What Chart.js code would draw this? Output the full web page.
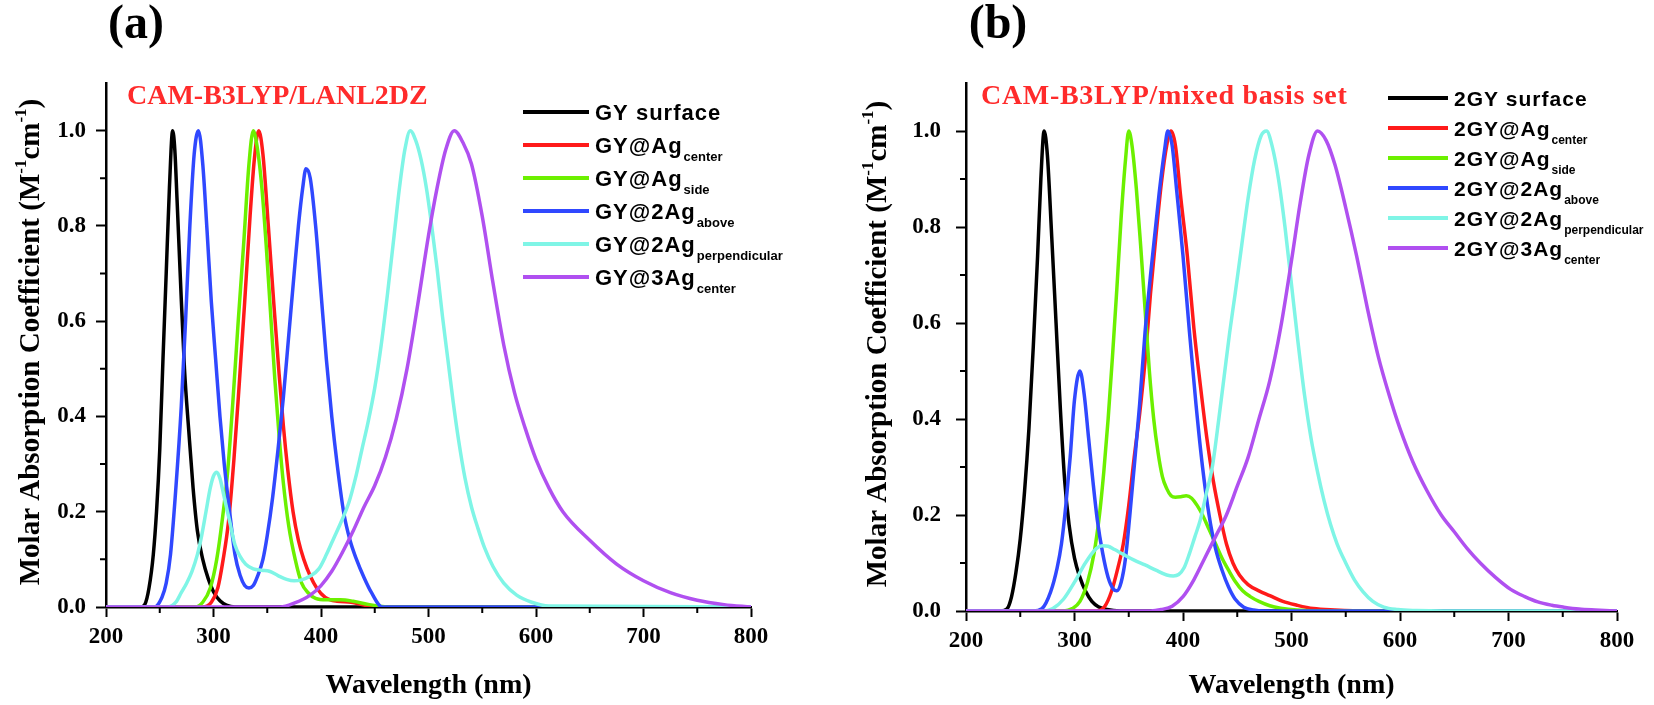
<!DOCTYPE html>
<html>
<head>
<meta charset="utf-8">
<script src="https://cdn.jsdelivr.net/npm/chart.js@4.4.1/dist/chart.umd.min.js"></script>
<style>
  html, body { margin: 0; padding: 0; background: #fff; }
  #wrap { position: relative; width: 1654px; height: 705px; overflow: hidden; }
  canvas { position: absolute; top: 0; }
</style>
</head>
<body>
<div id="wrap">
  <canvas id="chartA" width="827" height="705" style="left:0"></canvas>
  <canvas id="chartB" width="827" height="705" style="left:827px"></canvas>
</div>
<script>
/* ---- axes ---- */
const xTicks = [200, 300, 400, 500, 600, 700, 800];
const xMinorTicks = [250, 350, 450, 550, 650, 750];
const yTicks = [0, 0.2, 0.4, 0.6, 0.8, 1.0];
const yMinorTicks = [0.1, 0.3, 0.5, 0.7, 0.9];

/* ---- panel (a): CAM-B3LYP/LANL2DZ ---- */
const aLabels = [['GY surface', ''], ['GY@Ag', 'center'], ['GY@Ag', 'side'], ['GY@2Ag', 'above'], ['GY@2Ag', 'perpendicular'], ['GY@3Ag', 'center']];

const aSurfaceX = [200, 232, 236, 240, 244, 247, 250, 253, 256, 259, 262, 264, 266, 269, 273, 277, 281, 285, 290, 295, 300, 306, 312, 320, 800];
const aSurfaceY = [0, 0, 0.005, 0.04, 0.11, 0.2, 0.33, 0.52, 0.7, 0.88, 1.0, 0.96, 0.86, 0.7, 0.5, 0.37, 0.25, 0.16, 0.1, 0.06, 0.032, 0.013, 0.004, 0, 0];

const aCenterX = [200, 290, 298, 304, 309, 314, 319, 324, 329, 334, 338, 342, 346, 351, 356, 361, 365, 369, 374, 379, 384, 390, 396, 404, 415, 428, 440, 452, 800];
const aCenterY = [0, 0, 0.01, 0.04, 0.1, 0.18, 0.31, 0.47, 0.64, 0.82, 0.94, 1.0, 0.95, 0.8, 0.64, 0.49, 0.38, 0.29, 0.2, 0.14, 0.1, 0.065, 0.04, 0.02, 0.012, 0.01, 0.004, 0, 0];

const aSideX = [200, 283, 290, 297, 303, 308, 313, 318, 323, 328, 333, 337, 341, 345, 349, 353, 357, 361, 365, 370, 376, 382, 388, 395, 405, 418, 430, 445, 465, 800];
const aSideY = [0, 0, 0.01, 0.04, 0.1, 0.18, 0.28, 0.43, 0.6, 0.76, 0.93, 1.0, 0.96, 0.88, 0.76, 0.62, 0.48, 0.36, 0.26, 0.17, 0.1, 0.05, 0.03, 0.018, 0.015, 0.015, 0.012, 0.005, 0, 0];

const aAboveX = [200, 245, 252, 256, 260, 265, 270, 274, 278, 282, 286, 290, 294, 298, 302, 306, 310, 315, 320, 325, 329, 333, 337, 341, 346, 350, 355, 360, 365, 370, 375, 379, 383, 386, 390, 395, 400, 405, 410, 415, 421, 427, 433, 440, 447, 457, 800];
const aAboveY = [0, 0, 0.02, 0.05, 0.11, 0.25, 0.42, 0.6, 0.8, 0.95, 1.0, 0.93, 0.79, 0.64, 0.52, 0.4, 0.3, 0.2, 0.11, 0.065, 0.045, 0.04, 0.045, 0.065, 0.1, 0.15, 0.23, 0.33, 0.44, 0.57, 0.7, 0.8, 0.88, 0.92, 0.9, 0.8, 0.66, 0.52, 0.4, 0.3, 0.2, 0.14, 0.1, 0.062, 0.03, 0, 0];

const aPerpX = [200, 258, 265, 270, 275, 280, 285, 289, 293, 297, 300, 303, 306, 310, 315, 320, 325, 330, 337, 345, 352, 360, 368, 375, 382, 390, 398, 405, 412, 419, 426, 432, 438, 444, 450, 456, 462, 468, 473, 478, 483, 488, 493, 498, 503, 508, 513, 518, 523, 528, 534, 540, 546, 552, 560, 570, 582, 596, 612, 800];
const aPerpY = [0, 0, 0.01, 0.03, 0.05, 0.075, 0.11, 0.15, 0.2, 0.25, 0.275, 0.283, 0.27, 0.23, 0.18, 0.13, 0.105, 0.09, 0.08, 0.077, 0.075, 0.066, 0.058, 0.055, 0.057, 0.065, 0.08, 0.11, 0.145, 0.18, 0.22, 0.27, 0.33, 0.39, 0.46, 0.55, 0.66, 0.78, 0.88, 0.96, 1.0, 0.98, 0.94, 0.88, 0.8, 0.71, 0.61, 0.52, 0.43, 0.35, 0.27, 0.21, 0.165, 0.125, 0.085, 0.05, 0.025, 0.01, 0.002, 0];

const aThreeX = [200, 362, 375, 390, 400, 410, 420, 430, 440, 450, 460, 470, 480, 490, 500, 508, 516, 524, 532, 540, 550, 560, 570, 580, 590, 600, 612, 625, 650, 675, 700, 725, 750, 775, 800];
const aThreeY = [0, 0, 0.008, 0.025, 0.045, 0.075, 0.115, 0.16, 0.21, 0.255, 0.315, 0.395, 0.5, 0.635, 0.78, 0.88, 0.96, 1.0, 0.975, 0.93, 0.82, 0.68, 0.55, 0.45, 0.375, 0.31, 0.25, 0.2, 0.14, 0.09, 0.055, 0.03, 0.014, 0.005, 0];

/* ---- panel (b): CAM-B3LYP/mixed basis set ---- */
const bLabels = [['2GY surface', ''], ['2GY@Ag', 'center'], ['2GY@Ag', 'side'], ['2GY@2Ag', 'above'], ['2GY@2Ag', 'perpendicular'], ['2GY@3Ag', 'center']];

const bSurfaceX = [200, 232, 238, 242, 246, 250, 254, 258, 262, 266, 269, 272, 275, 279, 283, 287, 291, 295, 300, 305, 310, 316, 322, 330, 342, 800];
const bSurfaceY = [0, 0, 0.005, 0.03, 0.08, 0.15, 0.25, 0.38, 0.55, 0.74, 0.9, 1.0, 0.95, 0.78, 0.6, 0.42, 0.27, 0.18, 0.11, 0.07, 0.042, 0.02, 0.009, 0.003, 0, 0];

const bCenterX = [200, 320, 328, 334, 340, 345, 350, 355, 360, 365, 370, 375, 380, 385, 389, 393, 398, 404, 410, 416, 422, 428, 434, 440, 446, 452, 460, 470, 480, 492, 505, 520, 540, 570, 800];
const bCenterY = [0, 0, 0.01, 0.04, 0.09, 0.14, 0.22, 0.32, 0.41, 0.52, 0.66, 0.78, 0.89, 0.97, 1.0, 0.97, 0.86, 0.74, 0.59, 0.47, 0.36, 0.27, 0.2, 0.14, 0.1, 0.075, 0.055, 0.042, 0.032, 0.02, 0.012, 0.005, 0.002, 0, 0];

const bSideX = [200, 290, 298, 305, 312, 318, 323, 327, 331, 335, 339, 343, 347, 350, 353, 357, 361, 365, 369, 373, 377, 381, 385, 389, 393, 398, 403, 408, 413, 418, 424, 430, 436, 442, 448, 455, 462, 470, 480, 490, 505, 530, 800];
const bSideY = [0, 0, 0.005, 0.02, 0.06, 0.12, 0.2, 0.29, 0.4, 0.53, 0.67, 0.82, 0.94, 1.0, 0.97, 0.88, 0.76, 0.63, 0.5, 0.4, 0.33, 0.28, 0.255, 0.24, 0.237, 0.238, 0.24, 0.235, 0.22, 0.2, 0.17, 0.14, 0.11, 0.085, 0.062, 0.042, 0.03, 0.02, 0.011, 0.006, 0.002, 0, 0];

const bAboveX = [200, 262, 270, 278, 284, 288, 292, 296, 300, 305, 309, 313, 317, 321, 326, 331, 336, 339, 343, 347, 351, 355, 360, 365, 371, 378, 383, 386, 390, 394, 400, 406, 412, 418, 424, 430, 436, 442, 448, 456, 465, 475, 800];
const bAboveY = [0, 0, 0.005, 0.04, 0.09, 0.14, 0.22, 0.32, 0.44, 0.5, 0.45, 0.36, 0.27, 0.19, 0.12, 0.07, 0.045, 0.042, 0.06, 0.11, 0.2, 0.3, 0.43, 0.58, 0.72, 0.87, 0.96, 1.0, 0.97, 0.88, 0.74, 0.58, 0.43, 0.3, 0.2, 0.13, 0.085, 0.05, 0.025, 0.008, 0.002, 0, 0];

const bPerpX = [200, 270, 280, 290, 300, 310, 320, 326, 331, 337, 345, 355, 365, 375, 385, 391, 396, 401, 406, 411, 416, 421, 427, 433, 438, 443, 448, 454, 460, 466, 472, 477, 482, 488, 494, 500, 506, 512, 518, 524, 530, 536, 542, 550, 558, 566, 575, 585, 598, 615, 640, 800];
const bPerpY = [0, 0, 0.005, 0.025, 0.06, 0.1, 0.13, 0.136, 0.135, 0.128, 0.118, 0.106, 0.096, 0.085, 0.075, 0.073, 0.076, 0.09, 0.12, 0.155, 0.19, 0.24, 0.3, 0.4, 0.49, 0.58, 0.66, 0.76, 0.86, 0.94, 0.99, 1.0, 0.97, 0.9, 0.8, 0.68, 0.56, 0.45, 0.36, 0.29, 0.23, 0.18, 0.14, 0.1, 0.065, 0.04, 0.02, 0.008, 0.003, 0.001, 0, 0];

const bThreeX = [200, 370, 380, 390, 400, 410, 420, 430, 440, 450, 460, 470, 480, 490, 500, 508, 516, 524, 532, 540, 550, 560, 570, 580, 590, 600, 612, 625, 638, 650, 662, 674, 688, 702, 715, 727, 740, 751, 765, 780, 800];
const bThreeY = [0, 0, 0.003, 0.01, 0.03, 0.065, 0.11, 0.155, 0.2, 0.26, 0.32, 0.4, 0.48, 0.59, 0.73, 0.85, 0.95, 1.0, 0.98, 0.93, 0.84, 0.74, 0.63, 0.53, 0.45, 0.38, 0.31, 0.25, 0.2, 0.165, 0.13, 0.1, 0.07, 0.045, 0.03, 0.019, 0.012, 0.008, 0.004, 0.002, 0];

const seriesColors = ['#000000', '#ff1a1a', '#6cf000', '#3048ff', '#7ff5e6', '#b050f0'];

const SERIF = '"Liberation Serif", "Times New Roman", serif';
const SANS = '"Liberation Sans", Arial, sans-serif';

function toPoints(xs, ys) {
  return xs.map((x, i) => ({ x: x, y: ys[i] }));
}

function buildDatasets(pairs, labels) {
  return pairs.map((p, i) => ({
    label: labels[i][0] + labels[i][1],
    data: toPoints(p[0], p[1]),
    borderColor: seriesColors[i],
    borderWidth: 3.5,
    pointRadius: 0,
    fill: false,
    cubicInterpolationMode: 'monotone',
    order: pairs.length - i
  }));
}

// titles, panel letter, legend with subscripts, minor ticks
const decorPlugin = {
  id: 'decor',
  afterDraw(chart, args, o) {
    const ctx = chart.ctx;
    const xs = chart.scales.x, ys = chart.scales.y;
    const area = chart.chartArea;
    ctx.save();

    // minor ticks
    ctx.strokeStyle = '#000';
    ctx.lineWidth = 2;
    ctx.beginPath();
    xMinorTicks.forEach(v => {
      const px = xs.getPixelForValue(v);
      ctx.moveTo(px, area.bottom);
      ctx.lineTo(px, area.bottom + 6);
    });
    yMinorTicks.forEach(v => {
      const py = ys.getPixelForValue(v);
      ctx.moveTo(area.left, py);
      ctx.lineTo(area.left - 6, py);
    });
    ctx.stroke();

    // panel letter
    ctx.fillStyle = '#000';
    ctx.textAlign = 'center';
    ctx.textBaseline = 'middle';
    ctx.font = 'bold 48px ' + SERIF;
    ctx.fillText(o.letter, o.letterX, o.letterY);

    // method title
    ctx.fillStyle = '#ff2b2b';
    ctx.textAlign = 'left';
    ctx.font = 'bold 28px ' + SERIF;
    ctx.letterSpacing = o.titleSpacing;
    ctx.fillText(o.title, o.titleX, o.titleY);
    ctx.letterSpacing = '0px';

    // legend
    o.labels.forEach((lab, i) => {
      const yy = o.legendY0 + i * o.legendDy;
      ctx.strokeStyle = seriesColors[i];
      ctx.lineWidth = 4;
      ctx.beginPath();
      ctx.moveTo(o.legendX0, yy);
      ctx.lineTo(o.legendX1, yy);
      ctx.stroke();
      ctx.fillStyle = '#000';
      ctx.textBaseline = 'alphabetic';
      ctx.font = 'bold ' + o.legendSize + 'px ' + SANS;
      ctx.letterSpacing = '1px';
      const base = yy + o.legendSize * 0.36;
      ctx.fillText(lab[0], o.legendTextX, base);
      if (lab[1]) {
        const w = ctx.measureText(lab[0]).width;
        ctx.letterSpacing = '0px';
        ctx.font = 'bold ' + o.subSize + 'px ' + SANS;
        ctx.fillText(lab[1], o.legendTextX + w + 1, base + o.subDrop);
      }
    });
    ctx.letterSpacing = '0px';

    // y axis title with superscripts
    const parts = [['Molar Absorption Coefficient (M', false], ['-1', true], ['cm', false], ['-1', true], [')', false]];
    const mainFont = 'bold 29px ' + SERIF, supFont = 'bold 17px ' + SERIF;
    let total = 0;
    parts.forEach(p => { ctx.font = p[1] ? supFont : mainFont; total += ctx.measureText(p[0]).width; });
    ctx.translate(o.yTitleX, (area.top + area.bottom) / 2 - 3);
    ctx.rotate(-Math.PI / 2);
    ctx.fillStyle = '#000';
    ctx.textBaseline = 'alphabetic';
    let cx = -total / 2;
    parts.forEach(p => {
      ctx.font = p[1] ? supFont : mainFont;
      ctx.fillText(p[0], cx, p[1] ? -3 : 10);
      cx += ctx.measureText(p[0]).width;
    });
    ctx.restore();
  }
};

function makeChart(id, datasets, p) {
  return new Chart(document.getElementById(id), {
    type: 'line',
    data: { datasets: datasets },
    plugins: [decorPlugin],
    options: {
      responsive: false,
      animation: false,
      devicePixelRatio: 1,
      layout: { padding: { top: p.top, right: p.rightPad, left: 0, bottom: 0 } },
      plugins: {
        legend: { display: false },
        tooltip: { enabled: false },
        decor: p
      },
      scales: {
        x: {
          type: 'linear', min: 200, max: 800,
          afterBuildTicks: s => { s.ticks = xTicks.map(v => ({ value: v })); },
          afterFit: s => { s.height = p.xAxisHeight; },
          ticks: { color: '#000', padding: 6, maxRotation: 0, autoSkip: false,
                   font: { family: SERIF, size: 23, weight: 'bold' } },
          grid: { display: true, drawOnChartArea: false, drawTicks: true, tickLength: 10, tickWidth: 2, tickColor: '#000' },
          border: { display: true, color: '#000', width: 2.5 },
          title: { display: true, text: 'Wavelength (nm)', color: '#000',
                   font: { family: SERIF, size: 28, weight: 'bold', lineHeight: 1.1 }, padding: { top: 0, bottom: 4 } }
        },
        y: {
          type: 'linear', min: 0, max: 1.1,
          afterBuildTicks: s => { s.ticks = yTicks.map(v => ({ value: v })); },
          afterFit: s => { s.width = p.yAxisWidth; },
          ticks: { color: '#000', padding: p.yTickPad, callback: v => v.toFixed(1),
                   font: { family: SERIF, size: 23, weight: 'bold' } },
          grid: { display: true, drawOnChartArea: false, drawTicks: true, tickLength: 10, tickWidth: 2, tickColor: '#000' },
          border: { display: true, color: '#000', width: 2.5 }
        }
      }
    }
  });
}

makeChart('chartA', buildDatasets([
  [aSurfaceX, aSurfaceY], [aCenterX, aCenterY], [aSideX, aSideY],
  [aAboveX, aAboveY], [aPerpX, aPerpY], [aThreeX, aThreeY]
], aLabels), {
  letter: '(a)', letterX: 136, letterY: 26,
  title: 'CAM-B3LYP/LANL2DZ', titleX: 127, titleY: 97, titleSpacing: '0px',
  labels: aLabels, legendX0: 523, legendX1: 589, legendTextX: 595,
  legendY0: 112, legendDy: 33, legendSize: 22, subSize: 13, subDrop: 8,
  yTitleX: 29, yTickPad: 10, yAxisWidth: 106, rightPad: 76, xAxisHeight: 98, top: 83
});

makeChart('chartB', buildDatasets([
  [bSurfaceX, bSurfaceY], [bCenterX, bCenterY], [bSideX, bSideY],
  [bAboveX, bAboveY], [bPerpX, bPerpY], [bThreeX, bThreeY]
], bLabels), {
  letter: '(b)', letterX: 171, letterY: 26,
  title: 'CAM-B3LYP/mixed basis set', titleX: 154, titleY: 97, titleSpacing: '0.7px',
  labels: bLabels, legendX0: 561, legendX1: 621, legendTextX: 627,
  legendY0: 98, legendDy: 30, legendSize: 21, subSize: 12, subDrop: 8,
  yTitleX: 49, yTickPad: 15, yAxisWidth: 139, rightPad: 37, xAxisHeight: 94, top: 83
});
</script>
</body>
</html>
